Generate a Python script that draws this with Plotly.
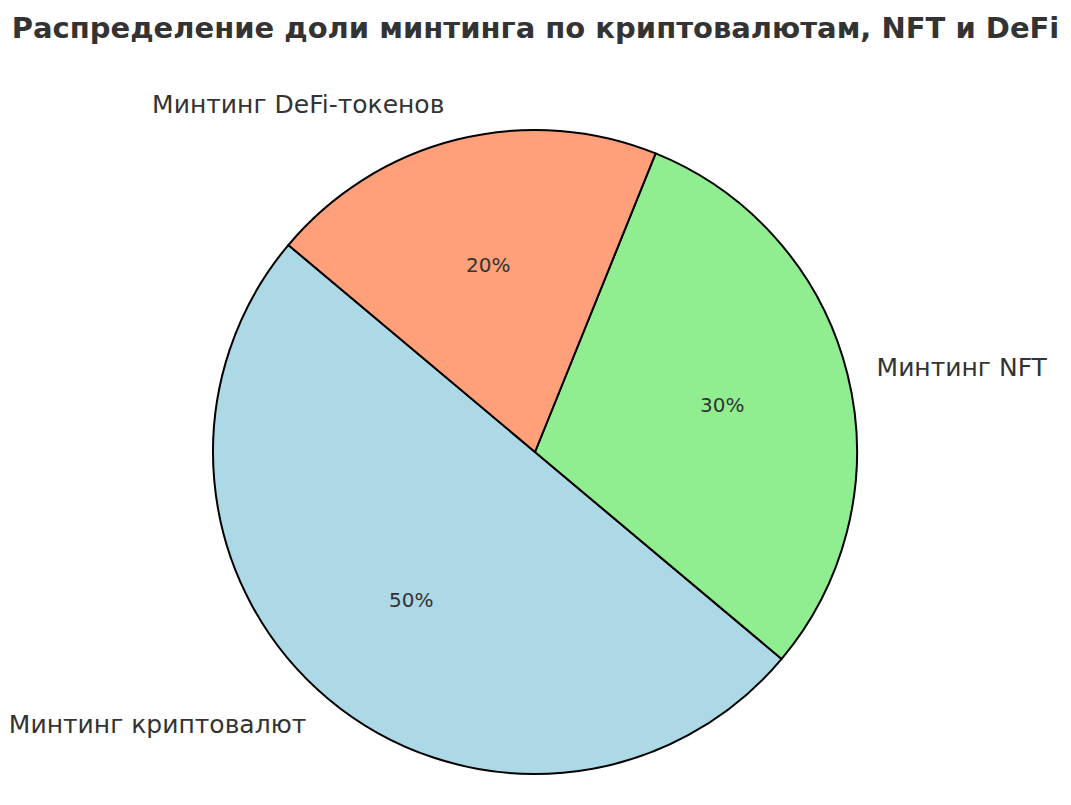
import math
import plotly.graph_objects as go

categories = ["Минтинг криптовалют", "Минтинг NFT", "Минтинг DeFi-токенов"]
shares = [50, 30, 20]
colors = ["#ADD8E6", "#90EE90", "#FFA07A"]

title_text = "Распределение доли минтинга по криптовалютам, NFT и DeFi"

W, H = 1071, 805
CX, CY, R = 535, 452, 322          # pie centre and radius in pixels
START = 140                        # start angle (deg, counterclockwise from 3 o'clock)


def dom(scale):
    r = R * scale
    return dict(x=[(CX - r) / W, (CX + r) / W], y=[1 - (CY + r) / H, 1 - (CY - r) / H])


fig = go.Figure()
fig.add_trace(go.Pie(
    labels=categories, values=shares, sort=False,
    direction="counterclockwise", rotation=START - 10,
    marker=dict(colors=colors, line=dict(color="black", width=2)),
    textinfo="none",
    domain=dom(1.0), showlegend=False, hoverinfo="skip",
))
fig.add_trace(go.Pie(
    labels=categories, values=shares, sort=False,
    direction="counterclockwise", rotation=START - 10,
    marker=dict(colors=["rgba(0,0,0,0)"] * 3, line=dict(width=0)),
    texttemplate="%{label}", textposition="outside",
    textfont=dict(family="DejaVu Sans", size=25, color="#333333"),
    domain=dom(1.07), showlegend=False, hoverinfo="skip",
))

# percentage labels at 0.6 of the radius, centred on each slice's mid-angle
total = sum(shares)
acc = 0
for v in shares:
    mid = math.radians(START + 360 * (acc + v / 2) / total)
    acc += v
    px = CX + 0.6 * R * math.cos(mid)
    py = CY - 0.6 * R * math.sin(mid)
    fig.add_annotation(x=px / W, y=1 - py / H, xref="paper", yref="paper",
                       text=f"{round(100 * v / total)}%", showarrow=False,
                       xanchor="center", yanchor="middle",
                       font=dict(family="DejaVu Sans", size=20, color="#333333"))

fig.update_layout(
    width=W, height=H,
    margin=dict(l=0, r=0, t=0, b=0),
    paper_bgcolor="white", plot_bgcolor="white",
    title=dict(text="<b>" + title_text + "</b>", x=0.5, xanchor="center",
               y=1 - 28 / H, yanchor="middle",
               font=dict(family="DejaVu Sans", size=29, color="#333333")),
)
fig.write_html("out.html")
